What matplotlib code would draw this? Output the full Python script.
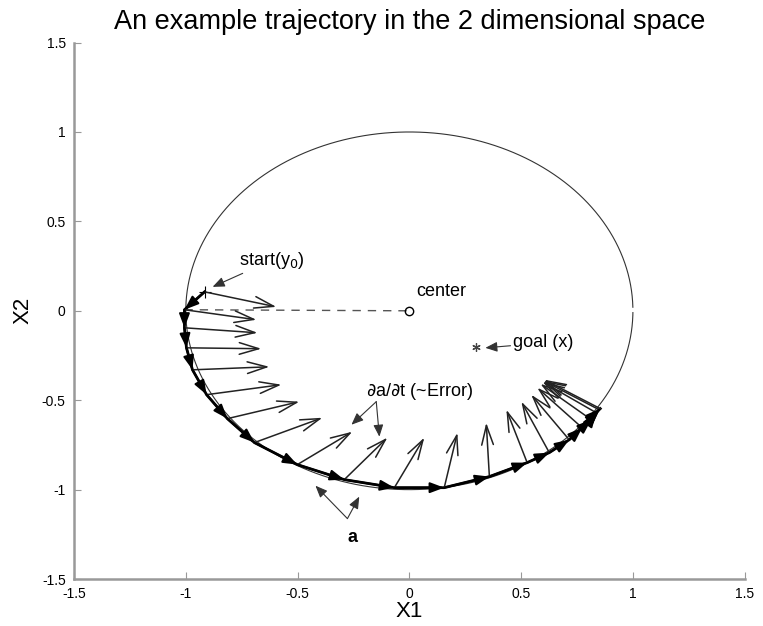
import numpy as np
import matplotlib.pyplot as plt

# trajectory nodes (a)
traj_x = [-0.916, -1.006, -1.006, -0.997, -0.970, -0.907, -0.814, -0.693, -0.501, -0.291,
          -0.067, 0.156, 0.358, 0.527, 0.626, 0.715, 0.773, 0.814, 0.836, 0.849, 0.854]
traj_y = [0.106, 0.006, -0.095, -0.207, -0.330, -0.469, -0.603, -0.737, -0.860, -0.944,
          -0.989, -0.989, -0.927, -0.849, -0.793, -0.721, -0.654, -0.609, -0.570, -0.553, -0.547]
# tips of the da/dt arrows
tip_x = [-0.595, -0.684, -0.679, -0.662, -0.626, -0.572, -0.492, -0.389, -0.255, -0.098,
         0.067, 0.215, 0.344, 0.434, 0.501, 0.545, 0.572, 0.586, 0.595, 0.599, 0.603]
tip_y = [0.022, -0.050, -0.123, -0.212, -0.313, -0.413, -0.508, -0.598, -0.676, -0.709,
         -0.709, -0.682, -0.626, -0.553, -0.508, -0.469, -0.430, -0.408, -0.397, -0.391, -0.385]

center = (0.0, 0.0)
goal = (0.3, -0.2)
radius = 1.0

plt.rcParams['font.family'] = ['Liberation Sans', 'DejaVu Sans']
fig = plt.figure(figsize=(7.63, 6.26), dpi=100)
ax = fig.add_axes([0.097, 0.075, 0.879, 0.857])

# reference circle
t = np.linspace(0.02, 2*np.pi - 0.01, 400)
ax.plot(center[0] + radius*np.cos(t), center[1] + radius*np.sin(t), color='#333333', lw=0.8)

# dashed radius to the center
ax.plot([traj_x[1], center[0]], [traj_y[1], center[1]], '--', color='#555555', lw=1.0, dashes=(6, 5))
ax.plot(*center, 'o', mfc='none', mec='k', ms=6, mew=1.0)
ax.plot(*goal, marker=(6, 2, 0), color='#444444', ms=6, mew=0.9)

# error arrows
for i in range(len(traj_x)):
    ax.annotate('', xy=(tip_x[i], tip_y[i]), xytext=(traj_x[i], traj_y[i]),
                arrowprops=dict(arrowstyle='->,head_length=1.0,head_width=0.3',
                                color='#222222', lw=1.1, mutation_scale=14,
                                shrinkA=0, shrinkB=0))

# trajectory
ax.plot(traj_x, traj_y, color='k', lw=2.0)
for i in range(len(traj_x) - 1):
    ax.annotate('', xy=(traj_x[i+1], traj_y[i+1]), xytext=(traj_x[i], traj_y[i]),
                arrowprops=dict(arrowstyle='-|>,head_length=1.2,head_width=0.45',
                                color='k', lw=1.5, mutation_scale=7,
                                shrinkA=0, shrinkB=0))

ax.plot(traj_x[0], traj_y[0], '+', color='k', ms=8, mew=0.8)

# labels
thin = dict(arrowstyle='-|>,head_length=0.6,head_width=0.25', color='#333333',
            lw=0.8, mutation_scale=12, shrinkA=0, shrinkB=0)
ax.annotate('start(y$_0$)', xy=(-0.88, 0.134), xytext=(-0.76, 0.225),
            fontsize=13, ha='left', va='bottom', arrowprops=thin)
ax.text(0.03, 0.06, 'center', fontsize=13, ha='left', va='bottom')
ax.annotate('goal (x)', xy=(0.34, -0.207), xytext=(0.465, -0.18),
            fontsize=13, ha='left', va='center', arrowprops=thin)
ax.text(0.045, -0.45, r'$\partial$a/$\partial$t (~Error)', fontsize=13, ha='center', va='center')
for head in [(-0.259, -0.637), (-0.134, -0.704)]:
    ax.annotate('', xy=head, xytext=(-0.148, -0.508), arrowprops=thin)
ax.text(-0.255, -1.265, 'a', fontsize=13, fontweight='bold', ha='center', va='center')
for head in [(-0.42, -0.978), (-0.224, -1.039)]:
    ax.annotate('', xy=head, xytext=(-0.277, -1.162), arrowprops=thin)

ax.set_xlim(-1.5, 1.5)
ax.set_ylim(-1.5, 1.5)
ticks = [-1.5, -1, -0.5, 0, 0.5, 1, 1.5]
ax.set_xticks(ticks)
ax.set_yticks(ticks)
ax.set_xticklabels(['-1.5', '-1', '-0.5', '0', '0.5', '1', '1.5'])
ax.set_yticklabels(['-1.5', '-1', '-0.5', '0', '0.5', '1', '1.5'])
ax.tick_params(direction='in', length=5, color='#999999', labelsize=10, pad=6)
for s in ['top', 'right']:
    ax.spines[s].set_visible(False)
for s in ['left', 'bottom']:
    ax.spines[s].set_color('#999999')
    ax.spines[s].set_linewidth(1.8)

ax.set_xlabel('X1', fontsize=16, labelpad=0)
ax.set_ylabel('X2', fontsize=16, labelpad=6)
ax.set_title('An example trajectory in the 2 dimensional space', fontsize=19.5, pad=10)

fig.savefig('out.png', dpi=100)
